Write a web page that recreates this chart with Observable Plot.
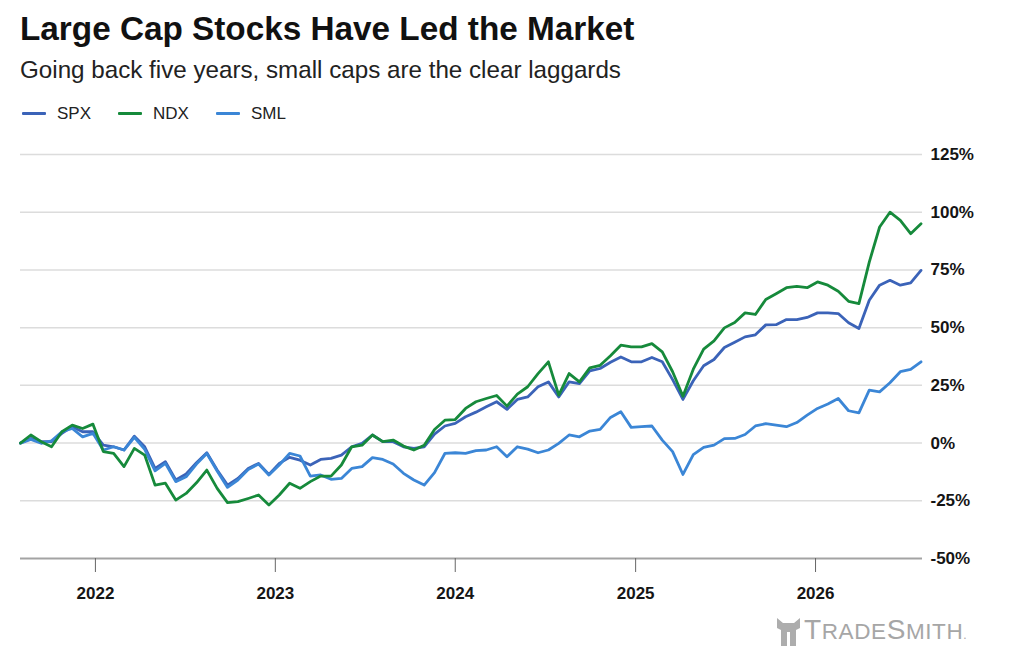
<!DOCTYPE html>
<html>
<head>
<meta charset="utf-8">
<script src="https://cdn.jsdelivr.net/npm/d3@7"></script>
<script src="https://cdn.jsdelivr.net/npm/@observablehq/plot@0.6"></script>
<style>
  html, body { margin: 0; padding: 0; background: #fff; }
  body { width: 1024px; height: 664px; position: relative; overflow: hidden; font-family: "Liberation Sans", Arial, sans-serif; color: #111; }
  .title { position: absolute; left: 20px; top: 12px; font-size: 33.3px; line-height: 1; font-weight: bold; white-space: nowrap; }
  .subtitle { position: absolute; left: 20px; top: 58px; font-size: 24.2px; line-height: 1; white-space: nowrap; color: #222; }
  .legend { position: absolute; left: 22px; top: 105px; font-size: 17px; line-height: 1; display: flex; white-space: nowrap; color: #222; }
  .legend .item { display: flex; align-items: center; margin-right: 27px; }
  .legend .sw { width: 24px; height: 3px; margin-right: 11px; border-radius: 1px; }
  #chart { position: absolute; left: 0; top: 130px; }
  .wm { position: absolute; left: 775px; top: 617px; display: flex; align-items: flex-end; color: #a6a6a6; height: 30px; }
  .wm .txt { line-height: 1; white-space: nowrap; letter-spacing: 0.6px; padding-bottom: 3px; }
  .wm .big { font-size: 28px; }
  .wm .sm { font-size: 22.5px; }
  .wm .dot { font-size: 12px; }
</style>
</head>
<body>
<div class="title">Large Cap Stocks Have Led the Market</div>
<div class="subtitle">Going back five years, small caps are the clear laggards</div>
<div class="legend" id="legend"></div>
<div id="chart"></div>
<div class="wm">
  <svg width="27" height="30" viewBox="0 0 27 30" style="margin-right:2px">
    <path d="M2 1 L8 6 L19 6 L25 1 L25 11 L21 13 L21 29 L15 29 L15 15 L12 15 L12 29 L6 29 L6 13 L2 11 Z" fill="#adadad"/>
  </svg>
  <span class="txt"><span class="big">T</span><span class="sm">RADE</span><span class="big">S</span><span class="sm">MITH</span><span class="dot">.</span></span>
</div>
<script>
// ---- data ----
const seriesNames = ["SPX", "NDX", "SML"];
const seriesColors = ["#3b63b8", "#168a3b", "#3b86d6"];
const startDate = "2021-08-02";
const endDate = "2026-08-06";
const stepDays = 21; // one observation every three weeks
const spx = [0, 2.0, 0.6, 0.6, 4.2, 7.1, 4.9, 4.9, -0.9, -1.6,
  -3.0, 3.0, -1.6, -11.0, -8.1, -16.0, -13.4, -8.5, -4.2, -11.7,
  -18.2, -15.3, -11.0, -8.8, -13.6, -8.8, -6.2, -7.4, -9.5, -7.1,
  -6.6, -5.2, -1.6, -0.1, 3.5, 0.6, 0.6, -1.6, -2.3, -1.6,
  3.9, 7.4, 8.5, 11.4, 13.4, 15.7, 17.9, 14.6, 18.9, 20.0,
  24.4, 26.5, 20.0, 26.5, 25.8, 31.3, 32.3, 35.0, 37.3, 35.2,
  35.2, 37.1, 35.2, 27.5, 18.9, 27.0, 33.5, 36.2, 41.4, 43.7,
  46.0, 46.9, 51.2, 51.3, 53.5, 53.5, 54.4, 56.4, 56.4, 56.1,
  52.1, 49.6, 61.9, 68.4, 70.5, 68.4, 69.4, 74.8];
const ndx = [0, 3.5, 0.6, -1.6, 4.9, 7.8, 6.3, 8.2, -3.7, -4.5,
  -10.2, -2.3, -5.2, -18.2, -17.4, -24.7, -21.8, -17.2, -11.7, -19.6,
  -25.8, -25.4, -24.0, -22.5, -26.8, -22.5, -17.4, -19.6, -16.7, -14.3,
  -14.3, -9.5, -1.6, -0.9, 3.5, 0.6, 1.3, -1.3, -3.0, -0.9,
  5.9, 9.9, 10.2, 15.0, 17.9, 19.3, 20.6, 16.0, 21.2, 24.4,
  30.1, 35.2, 20.8, 30.1, 26.5, 32.6, 33.7, 37.8, 42.4, 41.7,
  41.7, 43.1, 39.5, 30.9, 20.3, 32.0, 40.7, 44.3, 49.9, 52.2,
  56.4, 55.7, 62.2, 64.7, 67.3, 67.9, 67.3, 69.8, 68.4, 65.8,
  61.4, 60.4, 78.4, 93.6, 100.0, 96.5, 90.7, 95.0];
const sml = [0, 1.6, -0.1, 1.0, 4.9, 6.3, 2.7, 4.2, -3.0, -1.6,
  -3.0, 2.5, -2.7, -12.0, -8.8, -16.7, -14.6, -9.1, -4.5, -12.1,
  -19.2, -16.0, -11.5, -9.1, -13.8, -9.5, -4.5, -5.6, -14.3, -13.8,
  -15.7, -15.3, -11.0, -10.2, -6.3, -7.1, -9.1, -13.1, -16.0, -18.2,
  -12.8, -4.5, -4.2, -4.5, -3.3, -3.0, -1.6, -5.9, -1.6, -2.6,
  -4.2, -3.0, -0.1, 3.5, 2.7, 5.2, 5.9, 11.1, 13.6, 6.8,
  7.1, 7.4, 1.3, -3.7, -13.6, -5.0, -1.9, -0.9, 1.9, 2.0,
  3.7, 7.4, 8.4, 7.8, 7.1, 8.9, 12.1, 15.0, 16.9, 19.3,
  14.0, 13.1, 22.9, 22.2, 26.1, 30.9, 31.9, 35.2];
const yTicks = [-50, -25, 0, 25, 50, 75, 100, 125];
const xTickYears = [2022, 2023, 2024, 2025, 2026];

// ---- build table ----
const start = new Date(startDate + "T00:00:00Z");
const drawOrder = [["SPX", spx], ["SML", sml], ["NDX", ndx]];
const rows = [];
for (const [name, vals] of drawOrder) {
  vals.forEach((v, i) => rows.push({ date: d3.utcDay.offset(start, i * stepDays), value: v, series: name }));
}
const xTicks = xTickYears.map(y => new Date(Date.UTC(y, 0, 1)));

// ---- legend ----
const legend = document.getElementById("legend");
seriesNames.forEach((n, i) => {
  const it = document.createElement("div");
  it.className = "item";
  it.innerHTML = `<span class="sw" style="background:${seriesColors[i]}"></span><span>${n}</span>`;
  legend.appendChild(it);
});

// ---- chart ----
const chart = Plot.plot({
  width: 1024,
  height: 480,
  marginLeft: 20,
  marginRight: 102,
  marginTop: 24,
  marginBottom: 52,
  style: { fontFamily: "'Liberation Sans', Arial, sans-serif", background: "#fff" },
  x: { type: "utc", domain: [start, new Date(endDate + "T00:00:00Z")], label: null },
  y: { domain: [-50, 125], label: null },
  color: { domain: seriesNames, range: seriesColors },
  marks: [
    Plot.gridY(yTicks.filter(t => t > -50), { stroke: "#dcdcdc", strokeOpacity: 1, strokeWidth: 1.5 }),
    Plot.ruleY([-50], { stroke: "#a3a3a3", strokeWidth: 2 }),
    Plot.axisY(yTicks, { anchor: "right", tickSize: 0, tickPadding: 8, tickFormat: d => d + "%",
      fontSize: 17, fontWeight: "bold", fill: "#151515", label: null }),
    Plot.axisX(xTicks, { anchor: "bottom", tickSize: 14, tickPadding: 14, tickFormat: d3.utcFormat("%Y"),
      fontSize: 17, fontWeight: "bold", fill: "#151515", stroke: "#666", label: null }),
    Plot.lineY(rows, { x: "date", y: "value", z: "series", stroke: "series", strokeWidth: 2.8, curve: "linear" })
  ]
});
document.getElementById("chart").appendChild(chart);
</script>
</body>
</html>
